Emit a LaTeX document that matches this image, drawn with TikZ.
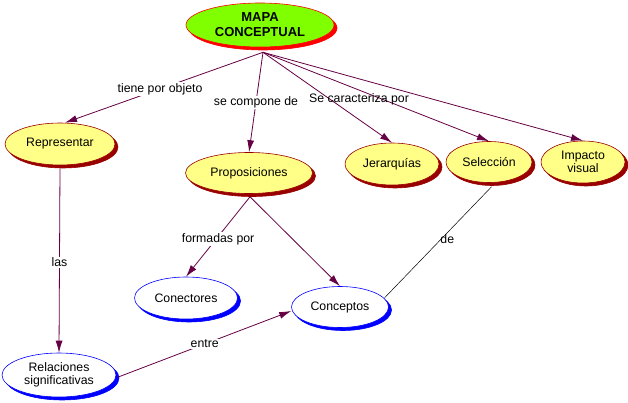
\documentclass[tikz,border=0pt]{standalone}
\usepackage{fontspec}
\setmainfont{Liberation Sans}
\usetikzlibrary{shapes.geometric,shadows,arrows.meta}
\definecolor{edgecol}{HTML}{660044}
\definecolor{yfill}{HTML}{FFFF88}
\definecolor{dred}{HTML}{990000}
\definecolor{gfill}{HTML}{80FF00}
\definecolor{bblue}{HTML}{0000FF}
\tikzset{
  base/.style={ellipse, inner sep=0pt, align=center, font=\fontsize{12.3}{13.5}\selectfont},
  ynode/.style={base, fill=yfill, draw=dred, line width=0.6pt,
    copy shadow={shadow xshift=3pt, shadow yshift=-3pt, fill=dred, draw=dred}},
  bnode/.style={base, fill=white, draw=bblue, line width=0.6pt,
    copy shadow={shadow xshift=3pt, shadow yshift=-3pt, fill=bblue, draw=bblue}},
  gnode/.style={base, fill=gfill, draw=red, line width=0.6pt, font=\fontsize{13}{15}\selectfont\bfseries,
    copy shadow={shadow xshift=3pt, shadow yshift=-3pt, fill=red, draw=red}},
  link/.style={draw=edgecol, line width=0.8pt, -{Latex[length=12pt,width=7pt]}},
  plain/.style={draw=black, line width=0.5pt},
  lbl/.style={font=\fontsize{12.3}{13.5}\selectfont, inner sep=1pt},
  lblw/.style={lbl, fill=white},
}
\begin{document}
\begin{tikzpicture}[x=1pt,y=1pt]
\useasboundingbox[fill=white] (0,0) rectangle (628,-403);
% nodes
\node[gnode, minimum width=148pt, minimum height=44pt] (mapa) at (260,-25) {MAPA\\CONCEPTUAL};
\node[ynode, minimum width=110pt, minimum height=42pt] (rep) at (60,-144) {Representar};
\node[ynode, minimum width=127pt, minimum height=41pt] (prop) at (249,-173) {Proposiciones};
\node[ynode, minimum width=94pt, minimum height=42pt] (jer) at (392,-164) {Jerarquías};
\node[ynode, minimum width=86pt, minimum height=41pt] (sel) at (489,-162) {Selección};
\node[ynode, minimum width=84pt, minimum height=42pt] (imp) at (583,-162) {Impacto\\visual};
\node[bnode, minimum width=103pt, minimum height=42pt] (con) at (186,-298) {Conectores};
\node[bnode, minimum width=97pt, minimum height=41pt] (conc) at (340,-307) {Conceptos};
\node[bnode, minimum width=114pt, minimum height=44pt] (rel) at (59,-375) {Relaciones\\significativas};
\coordinate (fan) at ([shift={(3pt,-5pt)}]mapa.south);
\coordinate (pbot) at ([shift={(1pt,-3pt)}]prop.south);
% connectors
\draw[link] (fan) -- node[lblw, pos=0.52] (l1) {tiene por objeto} ([xshift=5pt]rep.north);
\draw[link] (fan) -- node[lblw, pos=0.5] (l2) {se compone de} (prop.north);
\draw[link] (fan) -- (jer.north);
\draw[link] (fan) -- (sel.north);
\draw[link] (fan) -- (imp.north);
\node[lbl] (l3) at (359,-99) {Se caracteriza por};
\draw[link] (pbot) -- node[lblw, pos=0.53, xshift=2pt] (l4) {formadas por} (con.north);
\draw[link] (pbot) -- (conc.north);
\draw[link] ([yshift=-3pt]rep.south) -- node[lblw, pos=0.51] (l5) {las} (rel.north);
\draw[link] ([xshift=2pt,yshift=-2pt]rel.east) -- node[lblw, pos=0.5] (l6) {entre} ([yshift=-4pt]conc.west);
\draw[plain] ([xshift=1pt]conc.12) -- node[lbl, pos=0.53, xshift=6pt] (l7) {de} ([yshift=-4pt]sel.277);
\end{tikzpicture}
\end{document}
